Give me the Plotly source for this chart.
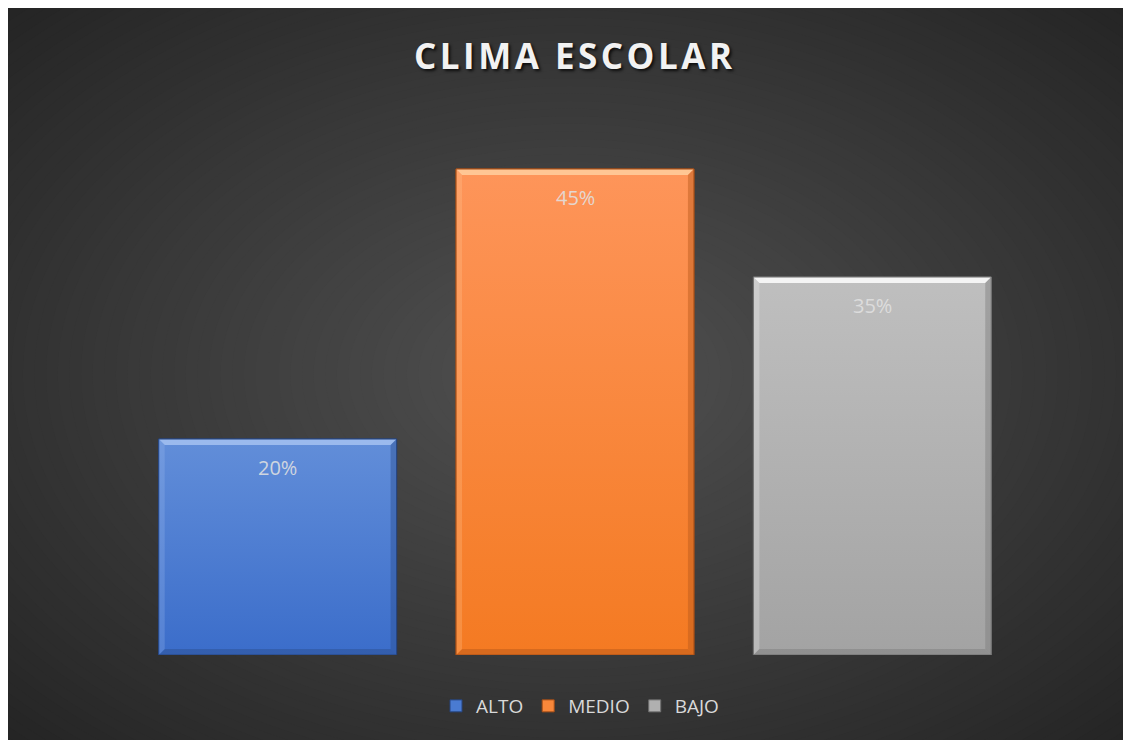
import plotly.graph_objects as go

# ---------------- data ----------------
categories = ["ALTO", "MEDIO", "BAJO"]
values = [0.20, 0.45, 0.35]
labels = ["20%", "45%", "35%"]
title_text = "CLIMA ESCOLAR"

# ---------------- style ----------------
W, H = 1123, 732
ML, MR, MT, MB = 121, 110, 107, 85
PW, PH = W - ML - MR, H - MT - MB
YMAX = 0.5
BAR_W = 0.8

colors = {
    "ALTO": dict(top="#628ed9", bot="#3b6dca", mid="#4a7bd2", light="#a2bff0", dark="#2c4f92", edge="#26457f"),
    "MEDIO": dict(top="#fe955a", bot="#f47a22", mid="#f8873a", light="#ffcb9a", dark="#b9591a", edge="#a84f16"),
    "BAJO": dict(top="#bfbfbf", bot="#a3a3a3", mid="#b0b0b0", light="#fafafa", dark="#7d7d7d", edge="#6e6e6e"),
}

fig = go.Figure()

# main bars (give legend + base)
for i, (cat, v) in enumerate(zip(categories, values)):
    c = colors[cat]
    fig.add_trace(go.Bar(
        x=[i], y=[v], name=cat, width=BAR_W,
        marker=dict(color=c["mid"], line=dict(color=c["edge"], width=1)),
        hoverinfo="skip",
    ))

# gradient + bevel overlays derived from the data
dx = 6 * 3 / PW      # ~6px in x data units
dy = 6 * YMAX / PH   # ~6px in y data units
for i, (cat, v) in enumerate(zip(categories, values)):
    c = colors[cat]
    x0, x1 = i - BAR_W / 2, i + BAR_W / 2
    fig.add_trace(go.Scatter(
        x=[x0, x0, x1, x1, x0], y=[0, v, v, 0, 0], mode="lines",
        line=dict(width=0), fill="toself",
        fillgradient=dict(type="vertical", colorscale=[[0, c["bot"]], [1, c["top"]]]),
        showlegend=False, hoverinfo="skip",
    ))
    fig.add_trace(go.Scatter(
        x=[x0, x1, x1 - dx, x0 + dx, x0], y=[v, v, v - dy, v - dy, v], mode="lines",
        line=dict(width=0), fill="toself", fillcolor=c["light"], opacity=0.9,
        showlegend=False, hoverinfo="skip",
    ))
    fig.add_trace(go.Scatter(
        x=[x1, x1, x1 - dx, x1 - dx, x1], y=[v, 0, dy, v - dy, v], mode="lines",
        line=dict(width=0), fill="toself", fillcolor=c["dark"], opacity=0.45,
        showlegend=False, hoverinfo="skip",
    ))
    fig.add_trace(go.Scatter(
        x=[x0, x1, x1 - dx, x0 + dx, x0], y=[0, 0, dy, dy, 0], mode="lines",
        line=dict(width=0), fill="toself", fillcolor=c["dark"], opacity=0.5,
        showlegend=False, hoverinfo="skip",
    ))
    fig.add_trace(go.Scatter(
        x=[x0, x0, x0 + dx, x0 + dx, x0], y=[0, v, v - dy, dy, 0], mode="lines",
        line=dict(width=0), fill="toself", fillcolor=c["light"], opacity=0.25,
        showlegend=False, hoverinfo="skip",
    ))
    fig.add_trace(go.Scatter(
        x=[x0, x0, x1, x1, x0], y=[0, v, v, 0, 0], mode="lines",
        line=dict(width=1, color=c["edge"]),
        showlegend=False, hoverinfo="skip",
    ))

# data labels
for i, (v, lab) in enumerate(zip(values, labels)):
    fig.add_annotation(
        x=i, y=v, text=lab, showarrow=False, yanchor="middle", yshift=-28,
        font=dict(family="Open Sans", size=20, color="rgba(225,225,225,0.88)"),
    )

# ---------------- background radial gradient ----------------
def px2paper_x(px):
    return (px - ML) / PW

def px2paper_y(py):
    return (H - MB - py) / PH

def lerp_hex(c1, c2, t):
    a = [int(c1[k:k + 2], 16) for k in (1, 3, 5)]
    b = [int(c2[k:k + 2], 16) for k in (1, 3, 5)]
    return "rgb(%d,%d,%d)" % tuple(round(a[j] + (b[j] - a[j]) * t) for j in range(3))

center_col, edge_col = "#515151", "#252525"
cx, cy = px2paper_x(W / 2), px2paper_y(H / 2)
ax, ay = (W / 2) / PW, (H / 2) / PH
shapes = []
N = 70
kmax = 1.45
for n in range(N):
    k = kmax * (1 - n / N)
    t = min(k / 1.414, 1.0)
    shapes.append(dict(
        type="circle", xref="paper", yref="paper", layer="below",
        x0=cx - k * ax, x1=cx + k * ax, y0=cy - k * ay, y1=cy + k * ay,
        fillcolor=lerp_hex(center_col, edge_col, t), line=dict(width=0),
    ))

spaced_title = "\u200a".join(title_text)

fig.update_layout(
    width=W, height=H,
    margin=dict(l=ML, r=MR, t=MT, b=MB),
    paper_bgcolor=edge_col, plot_bgcolor="rgba(0,0,0,0)",
    barmode="overlay",
    shapes=shapes,
    title=dict(
        text=spaced_title, x=565 / W, xref="container", xanchor="center",
        y=1 - 49 / H, yref="container", yanchor="middle",
        font=dict(family="Open Sans", size=35, color="#f2f2f2", weight="bold",
                  shadow="2px 2px 3px rgba(0,0,0,0.75)"),
    ),
    xaxis=dict(range=[-0.5, 2.5], visible=False, fixedrange=True),
    yaxis=dict(range=[0, YMAX], visible=False, fixedrange=True),
    legend=dict(
        orientation="h", x=px2paper_x(572), xanchor="center",
        y=px2paper_y(698), yanchor="middle",
        font=dict(family="Open Sans", size=19, color="#d9d9d9"),
        itemwidth=30, bgcolor="rgba(0,0,0,0)",
    ),
    showlegend=True,
)

fig.write_html("out.html")
